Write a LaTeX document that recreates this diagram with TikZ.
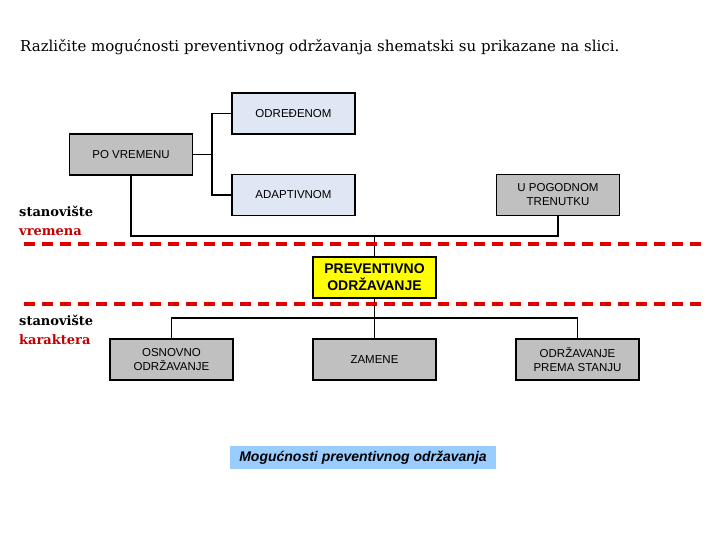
\documentclass[tikz,border=0pt]{standalone}
\usepackage{fontspec}
\setmainfont{DejaVu Serif}
\newfontfamily\boxfont{Liberation Sans}
\usetikzlibrary{calc}
\definecolor{sivaBox}{RGB}{192,192,192}
\definecolor{plavaBox}{RGB}{222,231,243}
\definecolor{zutaBox}{RGB}{255,255,0}
\definecolor{crvenaLin}{RGB}{225,0,0}
\definecolor{crvenaTxt}{RGB}{192,0,0}
\definecolor{plavaNatp}{RGB}{153,204,255}
\tikzset{
  kutija/.style={draw=black, line width=1.8bp, minimum width=123bp, minimum height=41bp,
    align=center, inner sep=2bp, font=\boxfont\fontsize{11.5bp}{14bp}\selectfont},
  siva/.style={kutija, fill=sivaBox},
  plava/.style={kutija, fill=plavaBox},
  veza/.style={line width=1.8bp},
  granica/.style={crvenaLin, line width=3.5bp, dash pattern=on 11bp off 7bp},
  stan/.style={anchor=base west, inner sep=0pt, font=\bfseries\fontsize{13bp}{15bp}\selectfont}
}
\begin{document}
\begin{tikzpicture}[x=1bp, y=-1bp]
\useasboundingbox (0,0) rectangle (720,540);
\node[anchor=base west, inner sep=0pt, font=\fontsize{15bp}{18bp}\selectfont] (naslov) at (20,52)
  {Različite mogućnosti preventivnog održavanja shematski su prikazane na slici.};

% po vremenu
\node[siva] (vrem) at (131,154.5) {PO VREMENU};
\node[plava] (odr) at (293.5,113.5) {ODREĐENOM};
\node[plava] (adp) at (293.5,195) {ADAPTIVNOM};
\node[siva] (pog) at (558,195) {U POGODNOM\\TRENUTKU};
\coordinate (jv) at (212,154.5);
\draw[veza] (vrem.east) -- (jv);
\draw[veza] (odr.west) -| (jv) |- (adp.west);

\node[kutija, fill=zutaBox, font=\boxfont\bfseries\fontsize{14bp}{17bp}\selectfont] (prev) at (374.5,277.5)
  {PREVENTIVNO\\ODRŽAVANJE};
\coordinate (gore) at (374.5,236);
\draw[veza] (vrem.south) |- (gore) -| (pog.south);
\draw[veza] (gore) -- (prev.north);

% po karakteru
\node[siva] (osn) at (171.5,359.5) {OSNOVNO\\ODRŽAVANJE};
\node[siva] (zam) at (374.5,359.5) {ZAMENE};
\node[siva] (sta) at (577.5,359.5) {ODRŽAVANJE\\PREMA STANJU};
\coordinate (dole) at (374.5,318);
\draw[veza] (prev.south) -- (dole);
\draw[veza] (osn.north) |- (dole) -| (sta.north);
\draw[veza] (dole) -- (zam.north);

% granice
\coordinate (g1a) at (24,244);
\coordinate (g1b) at (702,244);
\coordinate (g2a) at (24,304);
\coordinate (g2b) at (702,304);
\draw[granica] (g1a) -- (g1b);
\draw[granica] (g2a) -- (g2b);

\node[stan] (sv1) at (19,217) {stanovište};
\node[stan, text=crvenaTxt] (sv2) at (19,236) {vremena};
\node[stan] (sk1) at (19,325) {stanovište};
\node[stan, text=crvenaTxt] (sk2) at (19,344) {karaktera};

\node[fill=plavaNatp, minimum width=266bp, minimum height=23bp, inner sep=0pt,
  font=\boxfont\bfseries\itshape\fontsize{14bp}{16bp}\selectfont] (natpis) at (363,457.5)
  {Mogućnosti preventivnog održavanja};
\end{tikzpicture}
\end{document}
